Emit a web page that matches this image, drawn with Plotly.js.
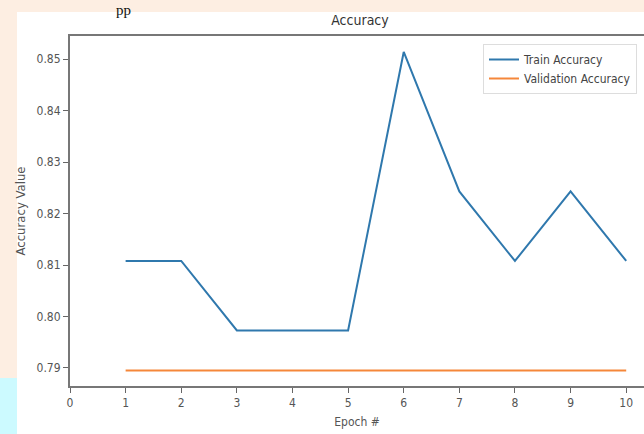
<!DOCTYPE html>
<html>
<head>
<meta charset="utf-8">
<script src="https://cdn.plot.ly/plotly-3.0.1.min.js"></script>
<style>html,body{margin:0;padding:0;background:#fff;}#chart{width:644px;height:434px;}</style>
</head>
<body>
<div id="chart"></div>
<script>
const epochs = [1, 2, 3, 4, 5, 6, 7, 8, 9, 10];
const trainAccuracy = [0.8108, 0.8108, 0.7973, 0.7973, 0.7973, 0.8514, 0.8243, 0.8108, 0.8243, 0.8108];
const validationAccuracy = [0.7895, 0.7895, 0.7895, 0.7895, 0.7895, 0.7895, 0.7895, 0.7895, 0.7895, 0.7895];
const xTicks = [0, 1, 2, 3, 4, 5, 6, 7, 8, 9, 10];
const yTicks = [0.79, 0.80, 0.81, 0.82, 0.83, 0.84, 0.85];

const FONT = '"DejaVu Sans Condensed", "Liberation Sans Narrow", "DejaVu Sans", sans-serif';

// pixel -> paper helpers (plot area: x 70..644, y 36..386)
const px = p => (p - 70) / 574;
const py = p => (386 - p) / 350;

const traces = [
  {x: epochs, y: trainAccuracy, mode: 'lines', name: 'Train Accuracy',
   line: {color: '#2f78ad', width: 2}},
  {x: epochs, y: validationAccuracy, mode: 'lines', name: 'Validation Accuracy',
   line: {color: '#f5873a', width: 2}}
];

const layout = {
  width: 644, height: 434,
  margin: {l: 70, r: 0, t: 36, b: 48, autoexpand: false},
  paper_bgcolor: '#fdeee2',
  plot_bgcolor: '#ffffff',
  font: {family: FONT, size: 12, color: '#444'},
  showlegend: true,
  title: {text: 'Accuracy', font: {family: FONT, size: 14, color: '#333'},
          x: 360/644, xref: 'container', xanchor: 'center', y: 1 - 20/434, yanchor: 'middle'},
  xaxis: {
    range: [0, 10.32], tickvals: xTicks, ticktext: xTicks.map(String),
    showgrid: false, zeroline: false, showline: true, mirror: true,
    linecolor: '#777', linewidth: 2, ticks: 'outside', ticklen: 5, tickwidth: 1, tickcolor: '#666',
    tickfont: {family: FONT, size: 12, color: '#555'},
    title: {text: 'Epoch #', font: {family: FONT, size: 12, color: '#555'}, standoff: 8}
  },
  yaxis: {
    range: [0.7865, 0.8545], tickvals: yTicks, ticktext: yTicks.map(v => v.toFixed(2)),
    showgrid: false, zeroline: false, showline: true, mirror: false,
    linecolor: '#777', linewidth: 2, ticks: 'outside', ticklen: 5, tickwidth: 1, tickcolor: '#666',
    tickfont: {family: FONT, size: 12, color: '#555'},
    title: {text: 'Accuracy Value', font: {family: FONT, size: 13, color: '#555'}, standoff: 8}
  },
  legend: {
    x: px(483), xanchor: 'left', y: py(44), yanchor: 'top', xref: 'paper', yref: 'paper',
    bgcolor: 'rgba(255,255,255,0.9)', bordercolor: '#ddd', borderwidth: 1,
    font: {family: FONT, size: 12, color: '#444'}, itemwidth: 30, tracegroupgap: 4
  },
  shapes: [
    {type: 'rect', xref: 'paper', yref: 'paper', layer: 'below',
     x0: px(17), x1: px(660), y0: py(440), y1: py(12),
     fillcolor: '#ffffff', line: {width: 0}},
    {type: 'rect', xref: 'paper', yref: 'paper', layer: 'below',
     x0: px(-5), x1: px(17), y0: py(440), y1: py(378),
     fillcolor: '#ccfaff', line: {width: 0}}
  ],
  annotations: [
    {text: 'pp', xref: 'paper', yref: 'paper', x: px(123), y: py(0),
     xanchor: 'center', yanchor: 'top', showarrow: false,
     font: {family: 'Liberation Serif, serif', size: 15, color: '#111'}}
  ]
};

Plotly.newPlot('chart', traces, layout, {displayModeBar: false, staticPlot: true});
</script>
</body>
</html>
